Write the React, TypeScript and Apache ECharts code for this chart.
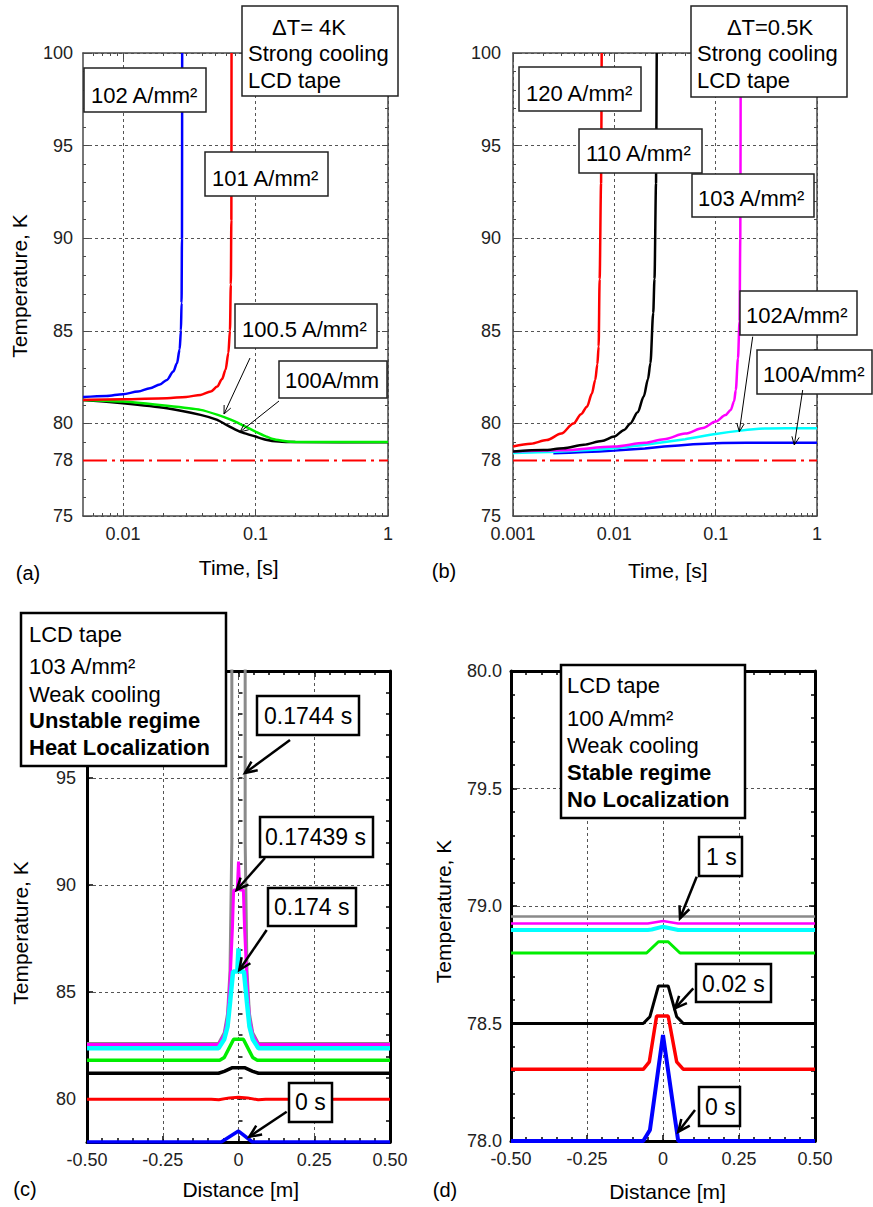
import React, { useEffect, useRef } from "react";
import * as echarts from "echarts";

const FONT = "'Liberation Sans', Arial, Helvetica, sans-serif";

// ---------- Panel (a): time [s] vs temperature [K], dT = 4 K ----------
const aTimeRange = [0.005, 1];
const aTimeTicks = [0.01, 0.1, 1];
const aTempLabels = [75, 78, 80, 85, 90, 95, 100];
const a102: number[][] = [[0.005, 81.42], [0.0075, 81.48], [0.01, 81.58], [0.013, 81.72], [0.016, 81.9], [0.019, 82.1], [0.0215, 82.35], [0.024, 82.8], [0.0256, 83.25], [0.0268, 84.0], [0.0274, 85.0], [0.0277, 86.5], [0.0279, 90], [0.028, 100]];
const a101: number[][] = [[0.005, 81.27], [0.01, 81.3], [0.0215, 81.36], [0.03, 81.43], [0.0385, 81.54], [0.046, 81.72], [0.0515, 81.99], [0.056, 82.4], [0.0595, 82.9], [0.0625, 83.8], [0.0642, 85.0], [0.0652, 87.5], [0.0658, 91], [0.066, 100]];
const a1005: number[][] = [[0.005, 81.27], [0.01, 81.18], [0.0215, 80.95], [0.0385, 80.73], [0.052, 80.46], [0.065, 80.2], [0.0775, 79.95], [0.1, 79.56], [0.12, 79.3], [0.138, 79.14], [0.165, 79.05], [0.2, 79.0], [1, 78.99]];
const a100: number[][] = [[0.005, 81.27], [0.01, 81.09], [0.0215, 80.82], [0.0385, 80.46], [0.0515, 80.19], [0.06, 79.93], [0.07, 79.68], [0.08, 79.5], [0.1, 79.29], [0.12, 79.12], [0.15, 79.02], [0.2, 78.99], [1, 78.98]];

// ---------- Panel (b): dT = 0.5 K ----------
const bTimeRange = [0.001, 1];
const b120: number[][] = [[0.001, 78.75], [0.0015, 78.9], [0.00215, 79.1], [0.003, 79.45], [0.00395, 80.0], [0.0047, 80.5], [0.00537, 80.9], [0.006, 81.6], [0.00648, 82.35], [0.0068, 83.2], [0.007, 84.15], [0.00716, 87.8], [0.0074, 93], [0.0075, 100]];
const b110: number[][] = [[0.001, 78.48], [0.002, 78.56], [0.00315, 78.66], [0.005, 78.85], [0.0075, 79.05], [0.01, 79.29], [0.0125, 79.65], [0.0144, 80.0], [0.017, 80.6], [0.0195, 81.45], [0.0215, 82.4], [0.0227, 83.25], [0.0242, 85.96], [0.0249, 87.8], [0.0258, 93], [0.0262, 100]];
const b103: number[][] = [[0.001, 78.48], [0.003, 78.55], [0.01, 78.75], [0.02, 78.95], [0.0309, 79.15], [0.05, 79.45], [0.075, 79.75], [0.1, 80.1], [0.125, 80.45], [0.141, 80.73], [0.152, 81.2], [0.158, 81.8], [0.166, 83.5], [0.172, 85.5], [0.175, 90], [0.1767, 100]];
const b102: number[][] = [[0.001, 78.4], [0.003, 78.48], [0.01, 78.66], [0.02, 78.85], [0.05, 79.15], [0.1, 79.43], [0.177, 79.61], [0.3, 79.72], [0.5, 79.74], [1, 79.74]];
const b100: number[][] = [[0.0025, 78.39], [0.005, 78.45], [0.01, 78.53], [0.02, 78.65], [0.0309, 78.75], [0.06, 78.87], [0.1, 78.93], [0.2, 78.95], [1, 78.95]];
const bathTemp = 78;

// ---------- Panel (c): distance [m] vs temperature, 103 A/mm2 ----------
const cTempTicks = [80, 85, 90, 95, 100];
const cTempLabels = [80, 85, 90, 95];
const cGray: number[][] = [[-0.5, 82.6], [-0.066, 82.6], [-0.047, 83.1], [-0.036, 84.0], [-0.028, 86], [-0.022, 92], [-0.022, 110], [0.022, 110], [0.022, 92], [0.028, 86], [0.036, 84.0], [0.047, 83.1], [0.066, 82.6], [0.5, 82.6]];
const cMagenta: number[][] = [[-0.5, 82.55], [-0.066, 82.55], [-0.047, 83.0], [-0.036, 83.8], [-0.028, 85.5], [-0.02, 88.0], [-0.016, 89.77], [-0.004, 89.77], [0, 91.1], [0.004, 89.77], [0.016, 89.77], [0.02, 88.0], [0.028, 85.5], [0.036, 83.8], [0.047, 83.0], [0.066, 82.55], [0.5, 82.55]];
const cCyan: number[][] = [[-0.5, 82.38], [-0.066, 82.38], [-0.047, 82.8], [-0.036, 83.4], [-0.028, 84.5], [-0.018, 85.96], [-0.004, 85.96], [0, 87.05], [0.004, 85.96], [0.018, 85.96], [0.028, 84.5], [0.036, 83.4], [0.047, 82.8], [0.066, 82.38], [0.5, 82.38]];
const cGreen: number[][] = [[-0.5, 81.82], [-0.062, 81.82], [-0.047, 81.95], [-0.016, 82.8], [0.016, 82.8], [0.047, 81.95], [0.062, 81.82], [0.5, 81.82]];
const cBlack: number[][] = [[-0.5, 81.21], [-0.066, 81.21], [-0.047, 81.3], [-0.02, 81.47], [0.02, 81.47], [0.047, 81.3], [0.066, 81.21], [0.5, 81.21]];
const cRed: number[][] = [[-0.5, 80], [-0.09, 80], [-0.065, 79.97], [-0.03, 80.06], [0, 80.09], [0.03, 80.06], [0.065, 79.97], [0.09, 80], [0.5, 80]];
const cBlue: number[][] = [[-0.5, 78], [-0.057, 78], [0, 78.51], [0.046, 78], [0.5, 78]];

// ---------- Panel (d): 100 A/mm2 ----------
const dGray: number[][] = [[-0.5, 78.955], [0.5, 78.955]];
const dMagenta: number[][] = [[-0.5, 78.926], [-0.05, 78.926], [0, 78.936], [0.05, 78.926], [0.5, 78.926]];
const dCyan: number[][] = [[-0.5, 78.898], [-0.05, 78.898], [-0.037, 78.9], [0, 78.912], [0.05, 78.898], [0.5, 78.898]];
const dGreen: number[][] = [[-0.5, 78.8], [-0.054, 78.8], [-0.015, 78.848], [0.017, 78.848], [0.056, 78.8], [0.5, 78.8]];
const dBlack: number[][] = [[-0.5, 78.5], [-0.065, 78.5], [-0.043, 78.529], [-0.015, 78.66], [0.017, 78.66], [0.045, 78.529], [0.067, 78.5], [0.5, 78.5]];
const dRed: number[][] = [[-0.5, 78.305], [-0.065, 78.305], [-0.045, 78.337], [-0.021, 78.532], [0.017, 78.532], [0.045, 78.337], [0.067, 78.305], [0.5, 78.305]];
const dBlue: number[][] = [[-0.5, 78.0], [-0.065, 78.0], [-0.043, 78.047], [0, 78.451], [0.05, 78.0], [0.5, 78.0]];

const BLUE = "#0000ff", RED = "#ff0000", GREEN = "#00ee00", BLACK = "#000000", MAGENTA = "#ff00ff", CYAN = "#00ffff", GRAY = "#8a8a8a";

const toLog = (pts: number[][]) => pts.map(([t, T]) => [Math.log10(t), T]);
const minorLog = (range: number[]) => {
  const out: number[] = [];
  for (let n = -4; n <= 0; n++) for (let k = 2; k <= 9; k++) {
    const v = k * Math.pow(10, n);
    if (v > range[0] && v < range[1]) out.push(Math.log10(v));
  }
  return out;
};
const fmtPow = (v: number) => String(Number(Math.pow(10, v).toPrecision(3)));
const fmtDist = (v: number) => (Math.abs(v) < 1e-9 ? "0" : v.toFixed(2));

function buildOption() {
  const grids = [
    { left: 83, top: 53, width: 305, height: 463 },
    { left: 513, top: 53, width: 304, height: 463 },
    { left: 87, top: 671, width: 303, height: 471 },
    { left: 511, top: 671, width: 304, height: 470 },
  ];
  const frameAB = { show: true, onZero: false, lineStyle: { color: "#4a4a4a", width: 1.5 } };
  const frameCD = { show: true, onZero: false, lineStyle: { color: "#000", width: 3 } };
  const tAB = { color: "#4a4a4a", width: 1 };
  const tCD = { color: "#000", width: 1.5 };
  const split = { show: true, lineStyle: { color: "#555", width: 1, type: [3, 3] } };
  const lbl = { color: "#222", fontSize: 18, fontFamily: FONT };

  const xAxis: any[] = [];
  const yAxis: any[] = [];
  const ax = (gridIndex: number, position: string, min: number, max: number, o: any = {}) => ({
    type: "value", gridIndex, position, min, max,
    ...(o.interval !== undefined ? { interval: o.interval } : {}),
    axisLine: o.line ?? { show: false },
    axisTick: o.tick ?? { show: false },
    minorTick: o.minor ?? { show: false },
    axisLabel: o.label ?? { show: false },
    splitLine: o.split ?? { show: false },
    minorSplitLine: { show: false },
  });
  const addX = (o: any) => { xAxis.push(o); return xAxis.length - 1; };
  const addY = (o: any) => { yAxis.push(o); return yAxis.length - 1; };

  // ----- panel a axes
  const aMin = Math.log10(aTimeRange[0]), aMax = Math.log10(aTimeRange[1]);
  const aMaj = aTimeTicks.map(Math.log10);
  const aMinor = minorLog(aTimeRange);
  const xa = addX(ax(0, "bottom", aMin, aMax, { line: frameAB, tick: { show: true, inside: true, length: 6, customValues: aMaj, lineStyle: tAB }, label: { show: true, customValues: aMaj, formatter: fmtPow, margin: 9, ...lbl }, split }));
  addX(ax(0, "bottom", aMin, aMax, { tick: { show: true, inside: true, length: 3, customValues: aMinor, lineStyle: tAB } }));
  addX(ax(0, "top", aMin, aMax, { line: frameAB, tick: { show: true, inside: true, length: 6, customValues: aMaj, lineStyle: tAB } }));
  addX(ax(0, "top", aMin, aMax, { tick: { show: true, inside: true, length: 3, customValues: aMinor, lineStyle: tAB } }));
  const ya = addY(ax(0, "left", 75, 100, { interval: 5, line: frameAB, tick: { show: true, inside: true, length: 6, lineStyle: tAB }, minor: { show: true, splitNumber: 5, length: 3, lineStyle: tAB }, label: { show: true, customValues: aTempLabels, margin: 10, ...lbl }, split }));
  addY(ax(0, "right", 75, 100, { interval: 5, line: frameAB, tick: { show: true, inside: true, length: 6, lineStyle: tAB }, minor: { show: true, splitNumber: 5, length: 3, lineStyle: tAB } }));

  // ----- panel b axes
  const bMin = Math.log10(bTimeRange[0]), bMax = Math.log10(bTimeRange[1]);
  const bMinor = minorLog(bTimeRange);
  const xb = addX(ax(1, "bottom", bMin, bMax, { interval: 1, line: frameAB, tick: { show: true, inside: true, length: 6, lineStyle: tAB }, label: { show: true, formatter: fmtPow, margin: 9, ...lbl }, split }));
  addX(ax(1, "bottom", bMin, bMax, { tick: { show: true, inside: true, length: 3, customValues: bMinor, lineStyle: tAB } }));
  addX(ax(1, "top", bMin, bMax, { interval: 1, line: frameAB, tick: { show: true, inside: true, length: 6, lineStyle: tAB } }));
  addX(ax(1, "top", bMin, bMax, { tick: { show: true, inside: true, length: 3, customValues: bMinor, lineStyle: tAB } }));
  const yb = addY(ax(1, "left", 75, 100, { interval: 5, line: frameAB, tick: { show: true, inside: true, length: 6, lineStyle: tAB }, minor: { show: true, splitNumber: 5, length: 3, lineStyle: tAB }, label: { show: true, customValues: aTempLabels, margin: 12, ...lbl }, split }));
  addY(ax(1, "right", 75, 100, { interval: 5, line: frameAB, tick: { show: true, inside: true, length: 6, lineStyle: tAB }, minor: { show: true, splitNumber: 5, length: 3, lineStyle: tAB } }));

  // ----- panel c axes
  const xc = addX(ax(2, "bottom", -0.5, 0.5, { interval: 0.25, line: frameCD, tick: { show: true, inside: true, length: 6, lineStyle: tCD }, minor: { show: true, splitNumber: 5, length: 4, lineStyle: tCD }, label: { show: true, formatter: fmtDist, margin: 9, ...lbl }, split }));
  addX(ax(2, "top", -0.5, 0.5, { interval: 0.25, line: frameCD, tick: { show: true, inside: true, length: 6, lineStyle: tCD }, minor: { show: true, splitNumber: 5, length: 4, lineStyle: tCD } }));
  const yc = addY(ax(2, "left", 78, 100, { line: frameCD, tick: { show: true, inside: true, length: 6, customValues: cTempTicks, lineStyle: tCD }, label: { show: true, customValues: cTempLabels, margin: 11, ...lbl }, split }));
  addY(ax(2, "left", 78, 100, { interval: 1, tick: { show: true, inside: true, length: 4, lineStyle: tCD } }));
  addY(ax(2, "right", 78, 100, { interval: 1, line: frameCD, tick: { show: true, inside: true, length: 4, lineStyle: tCD } }));

  // ----- panel d axes
  const xd = addX(ax(3, "bottom", -0.5, 0.5, { interval: 0.25, line: frameCD, tick: { show: true, inside: true, length: 6, lineStyle: tCD }, minor: { show: true, splitNumber: 5, length: 4, lineStyle: tCD }, label: { show: true, formatter: fmtDist, margin: 9, ...lbl }, split }));
  addX(ax(3, "top", -0.5, 0.5, { interval: 0.25, line: frameCD, tick: { show: true, inside: true, length: 6, lineStyle: tCD }, minor: { show: true, splitNumber: 5, length: 4, lineStyle: tCD } }));
  const yd = addY(ax(3, "left", 78, 80, { interval: 0.5, line: frameCD, tick: { show: true, inside: true, length: 6, lineStyle: tCD }, minor: { show: true, splitNumber: 5, length: 4, lineStyle: tCD }, label: { show: true, formatter: (v: number) => v.toFixed(1), margin: 9, ...lbl }, split }));
  addY(ax(3, "right", 78, 80, { interval: 0.5, line: frameCD, tick: { show: true, inside: true, length: 6, lineStyle: tCD }, minor: { show: true, splitNumber: 5, length: 4, lineStyle: tCD } }));

  const line = (name: string, data: number[][], color: string, width: number, xi: number, yi: number, extra: any = {}) => ({
    type: "line", name, data, xAxisIndex: xi, yAxisIndex: yi, symbol: "none", showSymbol: false, silent: true,
    lineStyle: { color, width }, itemStyle: { color }, ...extra,
  });
  const sm = { smooth: 0.3, smoothMonotone: "x" };
  const smSoft = { smooth: 0.2 };
  const bathStyle = (w: number) => ({ lineStyle: { color: RED, width: w, type: [24, 5, 3, 5] } });

  const series = [
    // (a)
    line("bath a", toLog([[aTimeRange[0], bathTemp], [aTimeRange[1], bathTemp]]), RED, 2, xa, ya, bathStyle(2)),
    line("100 A/mm2", toLog(a100), BLACK, 2.5, xa, ya, smSoft),
    line("100.5 A/mm2", toLog(a1005), GREEN, 2.5, xa, ya, smSoft),
    line("101 A/mm2", toLog(a101), RED, 2.5, xa, ya, sm),
    line("102 A/mm2", toLog(a102), BLUE, 2.5, xa, ya, sm),
    // (b)
    line("bath b", toLog([[bTimeRange[0], bathTemp], [bTimeRange[1], bathTemp]]), RED, 2, xb, yb, bathStyle(2)),
    line("100 A/mm2 b", toLog(b100), BLUE, 2.5, xb, yb, smSoft),
    line("102 A/mm2 b", toLog(b102), CYAN, 2.5, xb, yb, smSoft),
    line("103 A/mm2 b", toLog(b103), MAGENTA, 2.5, xb, yb, sm),
    line("110 A/mm2 b", toLog(b110), BLACK, 2.5, xb, yb, sm),
    line("120 A/mm2 b", toLog(b120), RED, 2.5, xb, yb, sm),
    // (c)
    line("0.1744 s", cGray, GRAY, 3, xc, yc),
    line("0.17439 s", cMagenta, MAGENTA, 3, xc, yc),
    line("0.174 s", cCyan, CYAN, 4.5, xc, yc),
    line("c green", cGreen, GREEN, 3.5, xc, yc),
    line("c black", cBlack, BLACK, 3.5, xc, yc),
    line("c red", cRed, RED, 3, xc, yc),
    line("0 s c", cBlue, BLUE, 3.5, xc, yc),
    // (d)
    line("1 s", dGray, GRAY, 2.5, xd, yd),
    line("d magenta", dMagenta, MAGENTA, 2.5, xd, yd),
    line("d cyan", dCyan, CYAN, 4, xd, yd),
    line("d green", dGreen, GREEN, 3, xd, yd),
    line("0.02 s", dBlack, BLACK, 3, xd, yd),
    line("d red", dRed, RED, 3.5, xd, yd),
    line("0 s d", dBlue, BLUE, 4, xd, yd),
  ];

  // ----- annotations (graphic)
  const g: any[] = [];
  const txt = (x: number, y: number, text: string, size: number, opts: any = {}) => g.push({
    type: "text", x, y, z: 110, rotation: opts.rotation ?? 0,
    style: { text, fontSize: size, fontFamily: FONT, fontWeight: opts.bold ? "bold" : "normal", fill: opts.fill ?? "#000", align: opts.align ?? "left", verticalAlign: "middle" },
  });
  const box = (x: number, y: number, w: number, h: number, lw: number, color = "#222") => g.push({
    type: "rect", z: 105, shape: { x, y, width: w, height: h }, style: { fill: "#fff", stroke: color, lineWidth: lw },
  });
  const arrow = (x1: number, y1: number, x2: number, y2: number, w: number, head: number) => {
    const ang = Math.atan2(y2 - y1, x2 - x1);
    const p1 = [x2 + head * Math.cos(ang + Math.PI - 0.42), y2 + head * Math.sin(ang + Math.PI - 0.42)];
    const p2 = [x2 + head * Math.cos(ang + Math.PI + 0.42), y2 + head * Math.sin(ang + Math.PI + 0.42)];
    g.push({ type: "line", z: 108, shape: { x1, y1, x2, y2 }, style: { stroke: "#000", lineWidth: w } });
    g.push({ type: "polyline", z: 108, shape: { points: [p1, [x2, y2], p2] }, style: { stroke: "#000", lineWidth: w, fill: null } });
  };

  // (a)
  box(242, 6, 156, 90, 1.5);
  txt(272, 27, "ΔT= 4K", 22);
  txt(248, 53, "Strong cooling", 22);
  txt(248, 80, "LCD tape", 22);
  box(84, 68, 122, 44, 1.5); txt(91, 95, "102 A/mm²", 22);
  box(205, 152, 123, 44, 1.5); txt(212, 178, "101 A/mm²", 22);
  box(235, 304, 142, 44, 1.5); txt(242, 329, "100.5 A/mm²", 22);
  box(279, 361, 108, 37, 1.5); txt(285, 380, "100A/mm", 22);
  arrow(250, 358, 224, 414, 1, 9);
  arrow(279, 401, 240, 432, 1, 9);
  txt(238.7, 567, "Time, [s]", 21, { align: "center" });
  txt(28, 573, "(a)", 20, { align: "center" });
  txt(19, 286, "Temperature, K", 21, { align: "center", rotation: Math.PI / 2 });

  // (b)
  box(691, 6, 156, 91, 1.5);
  txt(770, 27, "ΔT=0.5K", 22, { align: "center" });
  txt(697, 53, "Strong cooling", 22);
  txt(697, 80, "LCD tape", 22);
  box(519, 67, 122, 44, 1.5); txt(526, 93, "120 A/mm²", 22);
  box(579, 129, 123, 44, 1.5); txt(586, 153, "110 A/mm²", 22);
  box(692, 174, 122, 43, 1.5); txt(698, 198, "103 A/mm²", 22);
  box(740, 291, 117, 44, 1.5); txt(746, 315, "102A/mm²", 22);
  box(757, 350, 115, 44, 1.5); txt(763, 374, "100A/mm²", 22);
  arrow(752.7, 336.7, 739.3, 431.7, 1, 9);
  arrow(802.7, 390, 794.3, 445, 1, 9);
  txt(667.8, 570, "Time, [s]", 21, { align: "center" });
  txt(444, 571, "(b)", 20, { align: "center" });

  // (c)
  box(21, 613, 205, 153, 2.5, "#000");
  txt(29, 634, "LCD tape", 22);
  txt(29, 666.6, "103 A/mm²", 22);
  txt(29, 694, "Weak cooling", 22);
  txt(29, 720.6, "Unstable regime", 22, { bold: true });
  txt(29, 747.3, "Heat Localization", 22, { bold: true });
  box(257, 696, 102, 39, 2.5, "#000"); txt(264, 716, "0.1744 s", 23);
  box(260, 817, 113, 40, 2.5, "#000"); txt(265, 837, "0.17439 s", 23);
  box(268, 888, 88, 38, 2.5, "#000"); txt(274, 907, "0.174 s", 23);
  box(289, 1083, 43, 39, 2.5, "#000"); txt(295, 1102, "0 s", 23);
  arrow(290, 740, 245, 773, 2.5, 13);
  arrow(265, 858, 236.7, 890, 2.5, 13);
  arrow(266.7, 930, 239.3, 970, 2.5, 13);
  arrow(286.7, 1111.7, 249.3, 1136.7, 2.5, 13);
  txt(240.8, 1189, "Distance [m]", 21, { align: "center" });
  txt(25, 1189, "(c)", 20, { align: "center" });
  txt(20.8, 933, "Temperature, K", 21, { align: "center", rotation: Math.PI / 2 });

  // (d)
  box(561, 665, 184, 153, 2.5, "#000");
  txt(567, 685, "LCD tape", 22);
  txt(567, 718, "100 A/mm²", 22);
  txt(567, 745, "Weak cooling", 22);
  txt(567, 772.3, "Stable regime", 22, { bold: true });
  txt(567, 799, "No Localization", 22, { bold: true });
  box(699, 837, 43, 39, 2.5, "#000"); txt(706, 857, "1 s", 23);
  box(696, 964, 75, 38, 2.5, "#000"); txt(702, 984, "0.02 s", 23);
  box(699, 1087, 41, 39, 2.5, "#000"); txt(705, 1107, "0 s", 23);
  arrow(696.7, 876.7, 680, 918.3, 2.5, 13);
  arrow(693.3, 988.3, 675, 1008.3, 2.5, 13);
  arrow(695, 1110, 678.3, 1131.7, 2.5, 13);
  txt(667.5, 1191.7, "Distance [m]", 21, { align: "center" });
  txt(445, 1190, "(d)", 20, { align: "center" });
  txt(443.3, 911.5, "Temperature, K", 21, { align: "center", rotation: Math.PI / 2 });

  return {
    animation: false,
    backgroundColor: "#fff",
    textStyle: { fontFamily: FONT },
    grid: grids,
    xAxis,
    yAxis,
    series,
    graphic: { elements: g },
  };
}

export default function App() {
  const ref = useRef<HTMLDivElement>(null);
  useEffect(() => {
    if (!ref.current) return;
    const chart = echarts.init(ref.current, null, { renderer: "svg" });
    chart.setOption(buildOption() as any);
    return () => chart.dispose();
  }, []);
  return (
    <div
      ref={ref}
      style={{ position: "absolute", left: 0, top: 0, width: 873, height: 1207, background: "#fff" }}
    />
  );
}
